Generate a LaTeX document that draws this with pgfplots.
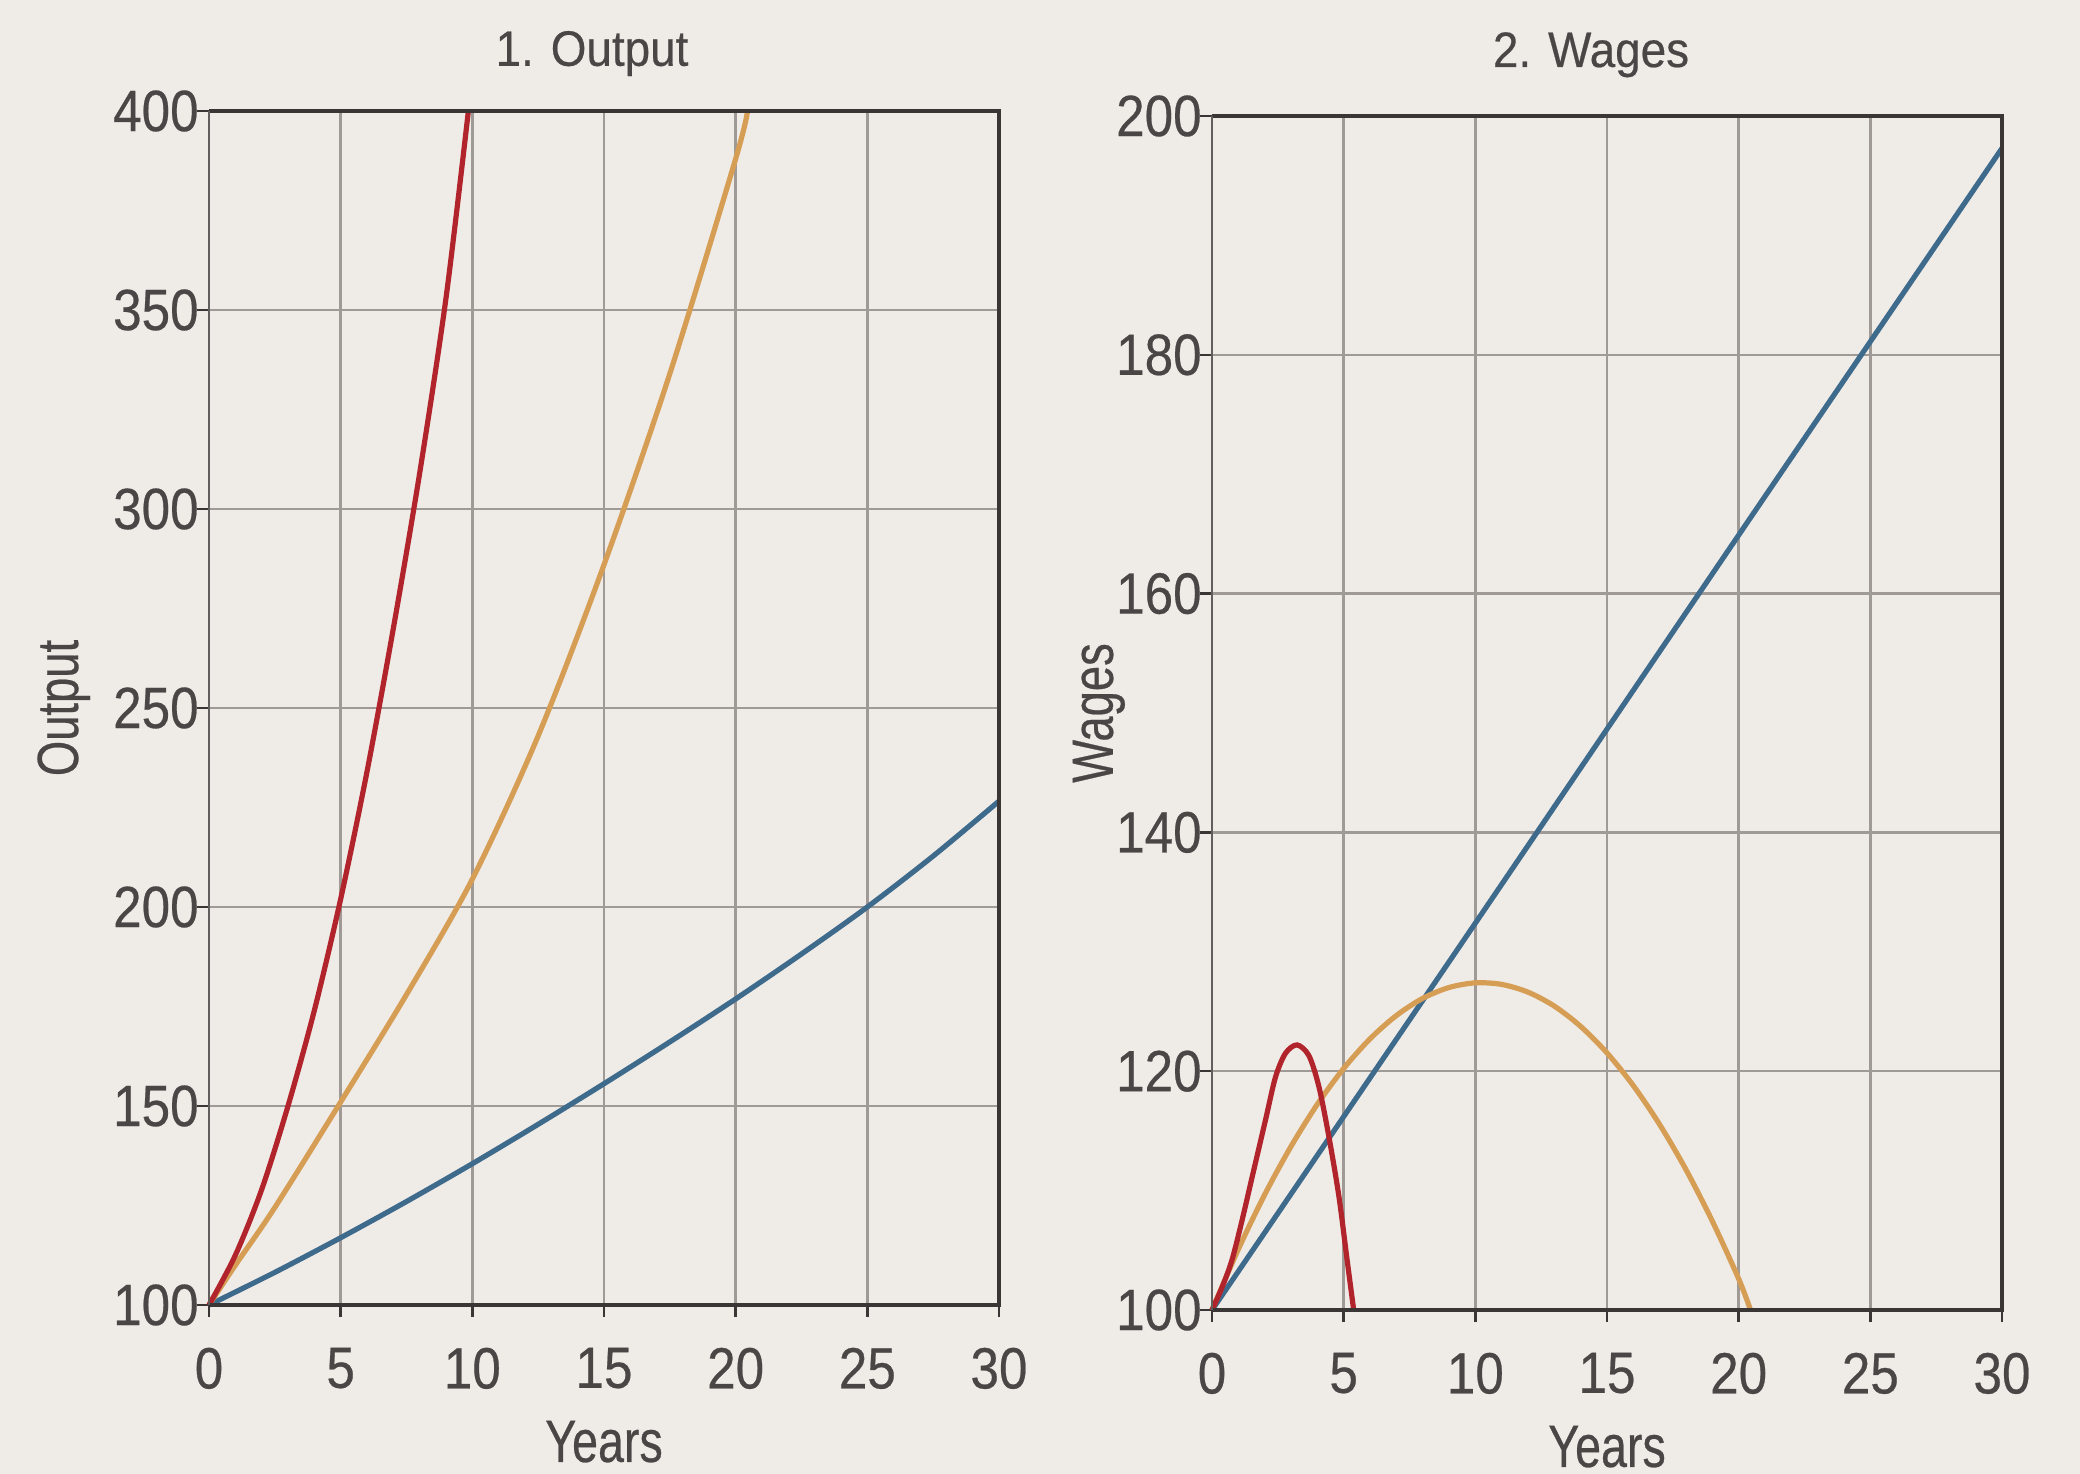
\documentclass[border=0pt]{standalone}
\usepackage{fontspec}
\setmainfont{Liberation Sans}[FakeStretch=0.78, FakeBold=0.4]
\newfontfamily\titlefont{Liberation Sans}[FakeStretch=0.92, FakeBold=0.4]
\newfontfamily\tickfont{Liberation Sans}[FakeStretch=0.88, FakeBold=0.4]
\usepackage{pgfplots}
\pgfplotsset{compat=1.18}
\definecolor{bg}{RGB}{239,235,231}
\definecolor{gridc}{RGB}{160,154,150}
\definecolor{framec}{RGB}{58,54,54}
\definecolor{textc}{RGB}{75,70,70}
\definecolor{cred}{RGB}{178,36,44}
\definecolor{corange}{RGB}{214,158,84}
\definecolor{cblue}{RGB}{62,106,140}
\begin{document}
\begin{tikzpicture}
\fill[bg] (0,0) rectangle (520bp,368.5bp);
\useasboundingbox (0,0) rectangle (520bp,368.5bp);
\pgfplotsset{
  panel/.style={
    scale only axis, width=197.5bp, height=298.5bp,
    anchor=south west, clip=false,
    xmin=0, xmax=30, xtick={0,5,...,30},
    grid=major, major grid style={draw=gridc, line width=0.6bp},
    axis line style={draw=none},
    tick align=outside, xtick pos=left, ytick pos=left,
    major tick length=3bp,
    tick style={draw=framec, line width=0.6bp},
    /pgf/number format/assume math mode=true,
    ticklabel style={font=\tickfont\fontsize{14.6}{16}\selectfont, text=textc, inner sep=0pt},
    xticklabel style={anchor=north, yshift=-7.5bp},
    yticklabel style={anchor=east, xshift=0.6bp},
  },
  curve/.style={line width=1.3bp, smooth, tension=0.5, mark=none, #1},
}
% ---------- Panel 1: Output ----------
\begin{axis}[panel, at={(52.25bp,42.25bp)}, ymin=100, ymax=400, ytick={100,150,...,400}]
\addplot[curve=cblue] coordinates {(0,100) (2.5,108.2) (5,116.9) (7.5,126) (10,135.5) (12.5,145.4) (15,155.6) (17.5,166.1) (20,176.9) (22.5,188.2) (25,200) (27.5,212.8) (30,226.6)};
\addplot[curve=corange] coordinates {(0,100) (1,110) (2.5,124.5) (5,151) (7.5,178) (10,207) (12.5,243) (15,286) (17.5,334) (20,388) (20.45,400)};
\addplot[curve=cred] coordinates {(0,100) (1,112.5) (2,129) (3,150) (4,174) (5,202) (6,234) (7,270) (8,309) (9,353) (9.85,400)};
\draw[framec, line width=0.9bp] (rel axis cs:0,1) -- (rel axis cs:1,1) -- (rel axis cs:1,0) -- (rel axis cs:0,0);
\draw[framec!80, line width=0.6bp] (rel axis cs:0,0) -- (rel axis cs:0,1);
\node[anchor=base, inner sep=0pt, text=textc, font=\titlefont\fontsize{12.5}{14}\selectfont] at ([xshift=-3bp,yshift=11.3bp]rel axis cs:0.5,1) {1. Output};
\node[anchor=north, inner sep=0pt, text=textc, font=\fontsize{15}{17}\selectfont] at ([yshift=-28.75bp]rel axis cs:0.5,0) {Years};
\node[rotate=90, anchor=north, inner sep=0pt, text=textc, font=\fontsize{14.6}{16}\selectfont] at ([xshift=-43.1bp]rel axis cs:0,0.5) {Output};
\end{axis}
% ---------- Panel 2: Wages ----------
\begin{axis}[panel, at={(303bp,41bp)}, ymin=100, ymax=200, ytick={100,120,...,200}]
\addplot[curve=cblue] coordinates {(0,100) (10,132.4) (20,164.9) (30,197.3)};
\addplot[curve=corange] coordinates {(0,100) (1,105.09) (2,109.66) (3,113.70) (4,117.23) (5,120.23) (6,122.71) (7,124.66) (8,126.10) (9,127.01) (10,127.40) (11,127.27) (12,126.62) (13,125.45) (14,123.75) (15,121.53) (16,118.79) (17,115.53) (18,111.75) (19,107.44) (20,102.61) (20.45,100)};
\addplot[curve=cred] coordinates {(0,100) (0.4,102) (0.76,104.2) (1.14,107.5) (1.52,111.1) (2.03,115.9) (2.41,119.5) (2.79,121.5) (3.23,122.2) (3.68,121.3) (4.06,118.7) (4.44,114.5) (4.82,109.5) (5.13,104.2) (5.38,100)};
\draw[framec, line width=0.9bp] (rel axis cs:0,1) -- (rel axis cs:1,1) -- (rel axis cs:1,0) -- (rel axis cs:0,0);
\draw[framec!80, line width=0.6bp] (rel axis cs:0,0) -- (rel axis cs:0,1);
\node[anchor=base, inner sep=0pt, text=textc, font=\titlefont\fontsize{12.5}{14}\selectfont] at ([xshift=-4bp,yshift=12.25bp]rel axis cs:0.5,1) {2. Wages};
\node[anchor=north, inner sep=0pt, text=textc, font=\fontsize{15}{17}\selectfont] at ([yshift=-28.75bp]rel axis cs:0.5,0) {Years};
\node[rotate=90, anchor=north, inner sep=0pt, text=textc, font=\fontsize{14.6}{16}\selectfont] at ([xshift=-35bp]rel axis cs:0,0.5) {Wages};
\end{axis}
\end{tikzpicture}
\end{document}
